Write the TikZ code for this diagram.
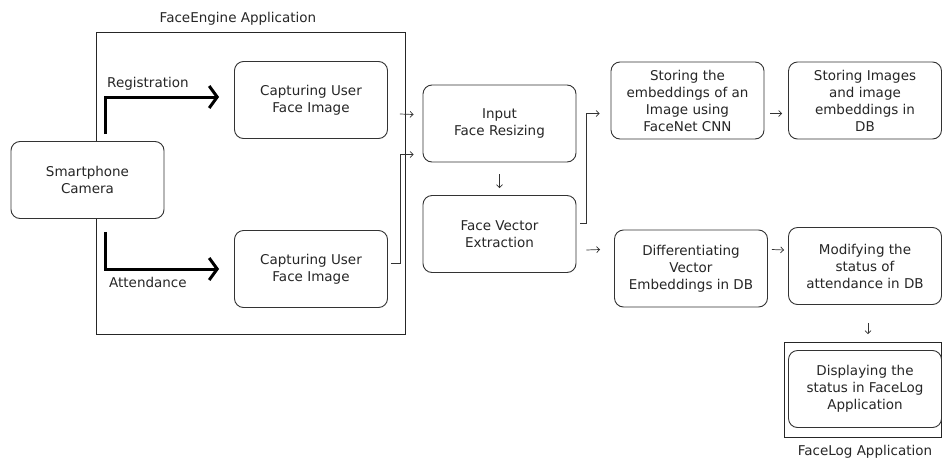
\documentclass[tikz,border=0pt]{standalone}
\usepackage{fontspec}
\setmainfont{DejaVu Sans}
\usetikzlibrary{arrows.meta}

\begin{document}
\begin{tikzpicture}[
    x=1pt, y=-1pt,
    box/.style={rectangle, rounded corners=9pt, draw=black!80, fill=white, line width=0.9pt, minimum width=153pt, minimum height=77pt, align=center, text=black!85, font=\fontsize{13.5}{17}\selectfont, inner sep=2pt},
    frame/.style={rectangle, draw=black!85, line width=0.9pt, inner sep=0pt},
    caption/.style={text=black!85, font=\fontsize{13.5}{15}\selectfont},
    bigarrow/.style={line width=3pt, draw=black, -{Straight Barb[length=8pt,width=22pt]}},
    arrow/.style={line width=0.7pt, draw=black!80, -{Straight Barb[length=3pt,width=6pt]}}
]
\useasboundingbox (0,0) rectangle (942,461);

% Frames
\node[frame, minimum width=309pt, minimum height=302pt] (engineframe) at (250.5,183) {};
\node[caption] (enginelabel) at (238,19) {FaceEngine Application};
\node[frame, minimum width=157pt, minimum height=95pt] (logframe) at (862.5,389.5) {};
\node[caption] (loglabel) at (865,452) {FaceLog Application};

% Input side
\node[box] (camera) at (87.5,180) {Smartphone\\Camera};
\node[box] (capreg) at (311,100) {Capturing User\\Face Image};
\node[box] (capatt) at (311,269) {Capturing User\\Face Image};

% Processing
\node[box] (resize) at (499.5,123.5) {Input\\Face Resizing};
\node[box] (vector) at (499.5,234) {Face Vector\\Extraction};

% Storage and attendance
\node[box] (storeemb) at (687.5,100.5) {Storing the\\embeddings of an\\Image using\\FaceNet CNN};
\node[box] (storeimg) at (865,100.5) {Storing Images\\and image\\embeddings in\\DB};
\node[box] (diff) at (691,268.5) {Differentiating\\Vector\\Embeddings in DB};
\node[box] (modify) at (865,266) {Modifying the\\status of\\attendance in DB};
\node[box] (display) at (865,389) {Displaying the\\status in FaceLog\\Application};

% Registration / attendance branches
\draw[bigarrow, shorten <=7pt, shorten >=15pt] ([xshift=18pt]camera.north) |- ([yshift=3pt]capreg.west)
    node[caption, pos=0.665, above=2pt] (reglabel) {Registration};
\draw[bigarrow, shorten <=13pt, shorten >=15pt] ([xshift=18pt]camera.south) |- (capatt.west)
    node[caption, pos=0.665, below=3pt] (attlabel) {Attendance};

% Connections
\draw[arrow] ([shift={(12,14)}]capreg.east) -- ([shift={(-9,-9)}]resize.west);
\draw[arrow] ([shift={(3,-6)}]capatt.east) -| ([shift={(-22,31)}]resize.west) -- ([shift={(-9,31)}]resize.west);
\draw[arrow] ([shift={(0,12)}]resize.south) -- ([shift={(0,-7)}]vector.north);
\draw[arrow] ([shift={(4,-11)}]vector.east) -| ([shift={(-24,13)}]storeemb.west) -- ([shift={(-11,13)}]storeemb.west);
\draw[arrow] ([shift={(10,16)}]vector.east) -- ([shift={(-14,-19)}]diff.west);
\draw[arrow] ([shift={(6,13)}]storeemb.east) -- ([shift={(-6,13)}]storeimg.west);
\draw[arrow] ([shift={(4,-19)}]diff.east) -- ([shift={(-4,-16)}]modify.west);
\draw[arrow] ([shift={(3,18)}]modify.south) -- ([shift={(3,-16)}]display.north);

\end{tikzpicture}
\end{document}
